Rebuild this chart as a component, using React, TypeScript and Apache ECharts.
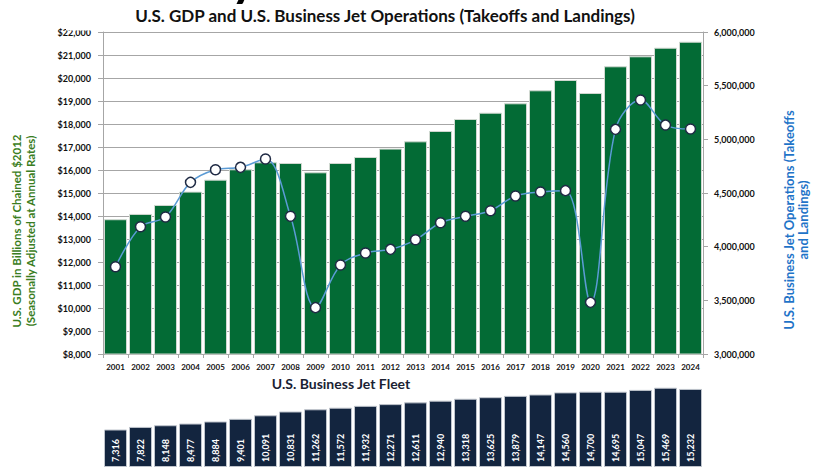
import React, { useEffect, useRef } from "react";
import * as echarts from "echarts";

const years = ["2001","2002","2003","2004","2005","2006","2007","2008","2009","2010","2011","2012","2013","2014","2015","2016","2017","2018","2019","2020","2021","2022","2023","2024"];
const gdp = [13860,14090,14480,15060,15580,16030,16335,16305,15900,16305,16565,16930,17246,17696,18217,18491,18900,19465,19913,19348,20509,20943,21317,21578];
const jetOps = [3813000,4186000,4276000,4599000,4717000,4739000,4817000,4283000,3432000,3829000,3941000,3975000,4064000,4223000,4283000,4335000,4472000,4509000,4522000,3481000,5093000,5366000,5133000,5096000];
const fleet = [7316,7822,8148,8477,8884,9401,10091,10831,11262,11572,11932,12271,12611,12940,13318,13625,13879,14147,14560,14700,14695,15047,15469,15232];

const FONT = "Lato, 'Open Sans', sans-serif";
const fmt = (v: number) => v.toLocaleString("en-US");

export default function App() {
  const ref = useRef<HTMLDivElement>(null);
  useEffect(() => {
    const chart = echarts.init(ref.current!, undefined, { renderer: "svg" });
    chart.setOption({
      animation: false,
      backgroundColor: "#ffffff",
      textStyle: { fontFamily: FONT },
      grid: [
        { left: 103, right: 112, top: 32, bottom: 113 },
        { left: 103, right: 112, top: 385, bottom: 0 },
      ],
      xAxis: [
        {
          type: "category", data: years, gridIndex: 0,
          axisLine: { lineStyle: { color: "#a6a6a6" } },
          axisTick: { show: true, alignWithLabel: false, length: 4, lineStyle: { color: "#a6a6a6" } },
          axisLabel: { color: "#111", fontSize: 8, fontWeight: "bold", margin: 9, fontFamily: FONT, interval: 0 },
        },
        { type: "category", data: years, gridIndex: 1, show: false },
      ],
      yAxis: [
        {
          type: "value", gridIndex: 0, min: 8000, max: 22000, interval: 1000, position: "left",
          axisLine: { show: true, lineStyle: { color: "#a6a6a6" } },
          axisTick: { show: true, length: 5, lineStyle: { color: "#a6a6a6" } },
          splitLine: { show: true, lineStyle: { color: "#a6a6a6", width: 1 } },
          axisLabel: { color: "#111", fontSize: 9, fontWeight: "bold", margin: 12, fontFamily: FONT, formatter: (v: number) => "$" + fmt(v) },
        },
        {
          type: "value", gridIndex: 0, min: 3000000, max: 6000000, interval: 500000, position: "right",
          axisLine: { show: true, lineStyle: { color: "#a6a6a6" } },
          axisTick: { show: true, length: 5, lineStyle: { color: "#a6a6a6" } },
          splitLine: { show: false },
          axisLabel: { color: "#111", fontSize: 9, fontWeight: "bold", margin: 11, fontFamily: FONT, formatter: (v: number) => fmt(v) },
        },
        { type: "value", gridIndex: 1, min: 0, max: 16000, show: false },
      ],
      series: [
        {
          type: "bar", name: "GDP", data: gdp, xAxisIndex: 0, yAxisIndex: 0,
          barCategoryGap: "8%",
          itemStyle: { color: "#036b35", borderColor: "#d0d8d0", borderWidth: 1 },
          z: 2,
        },
        {
          type: "line", name: "Operations", data: jetOps, xAxisIndex: 0, yAxisIndex: 1,
          smooth: 0.35,
          lineStyle: { color: "#5b9bd5", width: 1.5 },
          symbol: "circle", symbolSize: 10,
          itemStyle: { color: "#ffffff", borderColor: "#1f2a44", borderWidth: 1.5 },
          z: 5,
        },
        {
          type: "bar", name: "Fleet", data: fleet, xAxisIndex: 1, yAxisIndex: 2,
          barCategoryGap: "8%",
          itemStyle: { color: "#13253f", borderColor: "#bfc4cc", borderWidth: 1 },
          label: {
            show: true, position: "insideBottom", rotate: 90, align: "left", verticalAlign: "middle",
            distance: 5, color: "#ffffff", fontSize: 9, fontWeight: "bold", fontFamily: FONT,
            formatter: (p: any) => fmt(p.value),
          },
        },
      ],
      graphic: [
        { type: "rect", shape: { x: 66, y: 0, width: 32, height: 30.5 }, style: { fill: "#ffffff" }, z: 50 },
        {
          type: "text", x: 244, y: -23, z: 51,
          style: { text: "y", fontSize: 50, fontWeight: "bold", fontFamily: FONT, fill: "#000", textAlign: "center", textVerticalAlign: "middle" },
        },
        {
          type: "text", x: 385, y: 15, z: 60,
          style: { text: "U.S. GDP and U.S. Business Jet Operations (Takeoffs and Landings)", fontSize: 17, fontWeight: "bold", fontFamily: FONT, fill: "#111", textAlign: "center", textVerticalAlign: "middle" },
        },
        {
          type: "text", x: 23, y: 231, rotation: Math.PI / 2, z: 60,
          style: { text: "U.S. GDP in Billions of Chained $2012\n(Seasonally Adjusted at Annual Rates)", fontSize: 11.5, lineHeight: 14, fontWeight: "bold", fontFamily: FONT, fill: "#3a7d22", textAlign: "center", textVerticalAlign: "middle" },
        },
        {
          type: "text", x: 796, y: 220, rotation: Math.PI / 2, z: 60,
          style: { text: "U.S. Business Jet Operations (Takeoffs\nand Landings)", fontSize: 13, lineHeight: 14, fontWeight: "bold", fontFamily: FONT, fill: "#1f74c8", textAlign: "center", textVerticalAlign: "middle" },
        },
        {
          type: "text", x: 341, y: 383, z: 60,
          style: { text: "U.S. Business Jet Fleet", fontSize: 14, fontWeight: "bold", fontFamily: FONT, fill: "#1a2233", textAlign: "center", textVerticalAlign: "middle" },
        },
      ],
    });
    return () => chart.dispose();
  }, []);
  return <div ref={ref} style={{ width: 815, height: 467, position: "absolute", left: 0, top: 0 }} />;
}
